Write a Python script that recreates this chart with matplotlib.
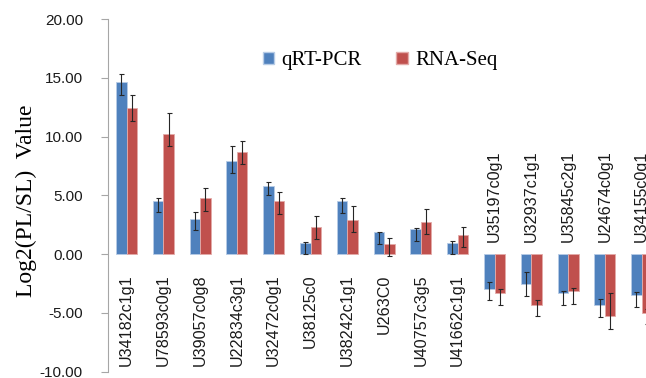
import numpy as np
import matplotlib
matplotlib.use('Agg')
import matplotlib.pyplot as plt
from matplotlib.patches import Patch

# gene ids (x categories)
genes = ['U34182c1g1', 'U78593c0g1', 'U39057c0g8', 'U22834c3g1', 'U32472c0g1',
         'U38125c0', 'U38242c1g1', 'U263C0', 'U40757c3g5', 'U41662c1g1',
         'U35197c0g1', 'U32937c1g1', 'U35845c2g1', 'U24674c0g1', 'U34155c0g1']

# log2(PL/SL) values
qpcr = [14.6, 4.55, 3.0, 7.9, 5.8, 0.95, 4.55, 1.85, 2.1, 0.95,
        -2.95, -2.55, -3.3, -4.3, -3.45]
rnaseq = [12.4, 10.2, 4.75, 8.7, 4.55, 2.35, 2.9, 0.85, 2.7, 1.6,
          -3.3, -4.3, -3.15, -5.3, -5.0]

# error bar lengths below / above each value
qpcr_err_below = [1.05, 1.0, 0.95, 1.0, 0.8, 0.95, 1.05, 1.0, 1.0, 0.95,
                  0.95, 1.05, 1.0, 1.05, 1.05]
qpcr_err_above = [0.75, 0.2, 0.6, 1.3, 0.35, 0.05, 0.25, 0.05, 0.1, 0.2,
                  0.6, 1.05, 0.2, 0.5, 0.25]
rna_err_below = [1.05, 1.0, 1.05, 1.0, 1.1, 1.05, 1.05, 1.05, 1.0, 1.0,
                 1.05, 1.0, 1.05, 1.05, 0.95]
rna_err_above = [1.1, 1.8, 0.85, 0.9, 0.7, 0.9, 1.2, 0.5, 1.15, 0.7,
                 0.3, 0.4, 0.3, 2.0, 0.3]

blue = '#4F81BD'
red = '#C0504D'

fig = plt.figure(figsize=(6.46, 3.78), dpi=100)
# axes deliberately run past the right edge (last bar is cut off in original)
ax = fig.add_axes([108/646, 0.0167, 552/646, 0.933])

x = np.arange(len(genes))
w = 0.286
ekw = dict(ecolor='#262626', elinewidth=0.8, capsize=1.8, capthick=0.8)
ax.bar(x - w/2, qpcr, w, color=blue, edgecolor='#B7CCE6', linewidth=0.6,
       yerr=[qpcr_err_below, qpcr_err_above], error_kw=ekw, zorder=2)
ax.bar(x + w/2, rnaseq, w, color=red, edgecolor='#E3AAA8', linewidth=0.6,
       yerr=[rna_err_below, rna_err_above], error_kw=ekw, zorder=2)

ax.set_xlim(-0.503, len(genes) - 0.503)
ax.set_ylim(-10, 20)
ax.set_yticks(np.arange(-10, 21, 5))
ax.set_yticklabels(['%.2f' % v for v in np.arange(-10, 21, 5)],
                   family='Liberation Sans', fontsize=11, color='#1a1a1a')
ax.tick_params(axis='y', direction='out', length=5, width=0.8,
               color='#A6A6A6', pad=13)
ax.set_xticks([])
for s in ['top', 'right', 'bottom']:
    ax.spines[s].set_visible(False)
ax.spines['left'].set_color('#A6A6A6')
ax.spines['left'].set_linewidth(0.8)

# gene labels sit on the opposite side of the zero line from the bars
for i, g in enumerate(genes):
    if qpcr[i] >= 0:
        ax.annotate(g, (i, 0), xytext=(0, -20), textcoords='offset pixels',
                    rotation=90, ha='center', va='top', fontsize=11.6,
                    family='Liberation Sans', color='#1a1a1a')
    else:
        ax.annotate(g, (i, 0), xytext=(0, 12), textcoords='offset pixels',
                    rotation=90, ha='center', va='bottom', fontsize=11.6,
                    family='Liberation Sans', color='#1a1a1a')

fig.text(26/646, 1 - 201/378, 'Log2(PL/SL)  Value', rotation=90,
         ha='center', va='center', family='Liberation Serif', fontsize=17)

handles = [Patch(facecolor=blue, edgecolor='#B7CCE6', label='qRT-PCR'),
           Patch(facecolor=red, edgecolor='#E3AAA8', label='RNA-Seq')]
fig.legend(handles=handles, loc='center', bbox_to_anchor=(380/646, 1 - 61/378),
           ncol=2, frameon=False, handlelength=0.55, handleheight=0.55,
           handletextpad=0.35, columnspacing=1.65,
           prop={'family': 'Liberation Serif', 'size': 15})

plt.savefig('out.png', dpi=100)
